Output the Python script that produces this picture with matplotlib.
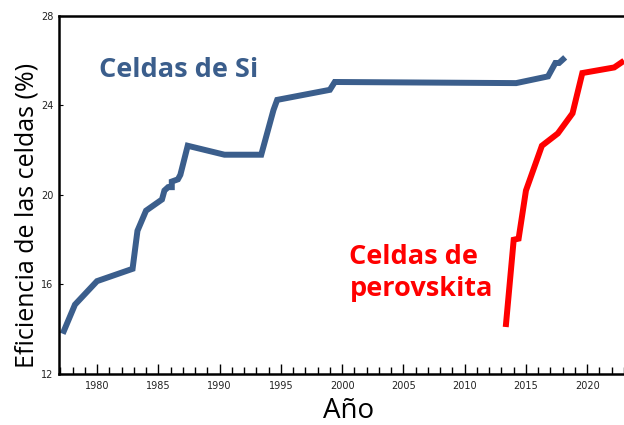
import matplotlib
matplotlib.use("Agg")
import matplotlib.pyplot as plt
from matplotlib.ticker import MultipleLocator

# silicon cells record efficiency
si_year = [1977.2, 1978.2, 1980.0, 1982.9, 1983.3, 1984.0, 1985.3, 1985.5, 1985.8,
           1986.1, 1986.1, 1986.6, 1986.8, 1987.4, 1990.4, 1993.4, 1994.4, 1994.7,
           1999.0, 1999.4, 2014.2, 2016.8, 2017.4, 2017.7, 2018.2]
si_eff = [13.8, 15.1, 16.15, 16.7, 18.4, 19.3, 19.8, 20.2, 20.35,
          20.35, 20.6, 20.7, 20.9, 22.2, 21.8, 21.8, 23.8, 24.25,
          24.7, 25.05, 25.0, 25.3, 25.9, 25.9, 26.15]

# perovskite cells
pv_year = [2013.35, 2014.0, 2014.4, 2015.0, 2016.3, 2017.6, 2018.8, 2019.6, 2022.2, 2023.0]
pv_eff = [14.1, 18.0, 18.05, 20.2, 22.2, 22.75, 23.65, 25.45, 25.7, 26.0]

blue = '#3B5E8C'

fig = plt.figure(figsize=(6.24, 4.25), dpi=100)
ax = fig.add_axes([0.0946, 0.12, 0.9054, 0.8424])

ax.plot(si_year, si_eff, color=blue, lw=4.3, solid_joinstyle='miter', solid_capstyle='butt')
ax.plot(pv_year, pv_eff, color='#FF0000', lw=4.3, solid_joinstyle='miter', solid_capstyle='butt')

ax.set_xlim(1976.9, 2023.0)
ax.set_ylim(12, 28)
ax.set_yticks([12, 16, 20, 24, 28])
ax.xaxis.set_major_locator(MultipleLocator(5))
ax.xaxis.set_minor_locator(MultipleLocator(1))
ax.tick_params(axis='x', which='major', direction='in', length=7, width=1, labelsize=7, pad=5)
ax.tick_params(axis='x', which='minor', direction='in', length=5, width=1)
ax.tick_params(axis='y', direction='in', length=3, width=0.8, labelsize=7, pad=4)
for lab in ax.get_xticklabels() + ax.get_yticklabels():
    lab.set_family('Liberation Sans Narrow')
    lab.set_color('#222222')

ax.spines['right'].set_visible(False)
for s in ['left', 'bottom', 'top']:
    ax.spines[s].set_linewidth(1.8)
    ax.spines[s].set_color('black')

ax.set_xlabel('Año', fontsize=20, family='Open Sans')
ax.xaxis.set_label_coords(0.513, -0.063, transform=ax.transAxes)
ax.xaxis.label.set_va('top')
ax.set_ylabel('Eficiencia de las celdas (%)', fontsize=18, family='Open Sans')
ax.yaxis.set_label_coords(-0.057, 0.444, transform=ax.transAxes)
ax.yaxis.label.set_va('center')

ax.text(1980.2, 25.6, 'Celdas de Si', color=blue, fontsize=19.5, fontweight='bold',
        family='Open Sans', ha='left', va='center')
ax.text(2000.6, 16.5, 'Celdas de\nperovskita', color='#FF0000', fontsize=19.5,
        fontweight='bold', family='Open Sans', ha='left', va='center', linespacing=1.3)

fig.savefig('out.png', dpi=100)
